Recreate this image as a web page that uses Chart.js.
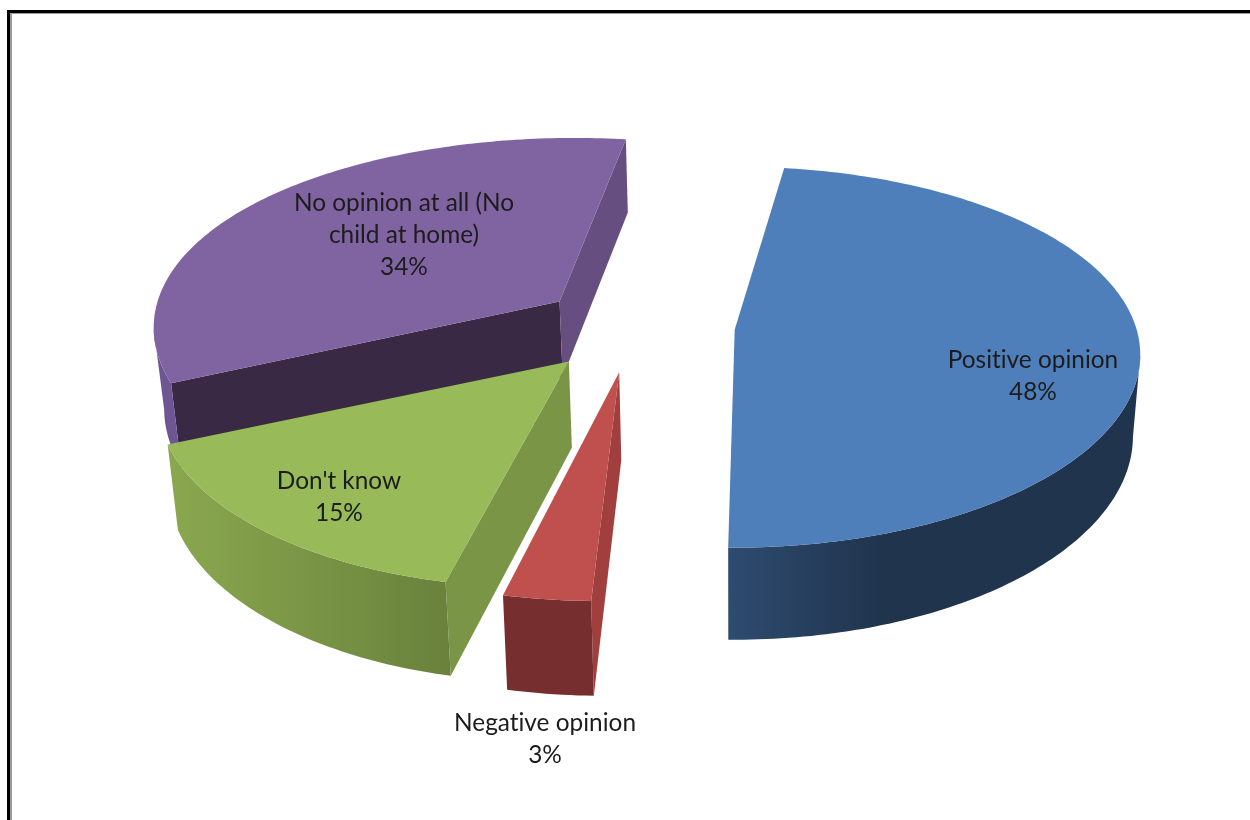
<!DOCTYPE html>
<html>
<head>
    <meta charset="utf-8">
    <style>
        body {
            margin: 0;
            background-color: white;
            overflow: hidden;
        }
        #wrap {
            position: relative;
            width: 1250px;
            height: 820px;
        }
        #frame {
            position: absolute;
            left: 7px;
            top: 10px;
            width: 1300px;
            height: 900px;
            border: 3px solid black;
            box-shadow: inset 2px 1px 0 #9a9a9a;
        }
        canvas {
            position: absolute;
            left: 0;
            top: 0;
        }
    </style>
    <script src="https://cdn.jsdelivr.net/npm/chart.js"></script>
</head>
<body>
    <div id="wrap">
        <div id="frame"></div>
        <canvas id="myChart" width="1250" height="820"></canvas>
    </div>
    <script>
        const categories = ['Positive opinion', 'Negative opinion', "Don't know", 'No opinion at all (No child at home)'];
        const values = [48, 3, 15, 34];
        const explode = [105, 100, 98, 88];

        // Slice colours: top face, cut faces, rim gradient ends
        const topColors = ['#4e7fba', '#bf504d', '#98ba58', '#8064a2'];
        const startFaceColors = ['#20344d', '#a03f3e', '#7a9545', '#392944'];
        const endFaceColors = ['#20344d', '#a03f3e', '#7a9545', '#664f80'];
        const rimFrom = ['#2e4b70', '#772e2e', '#8aa84f', '#6e5692'];
        const rimTo = ['#20344d', '#772e2e', '#6a823c', '#6e5692'];

        // Wrapped label lines and their centres on the page
        const labelLines = [['Positive opinion'], ['Negative opinion'], ["Don't know"], ['No opinion at all (No', 'child at home)']];
        const labelX = [1033, 545, 339, 404];
        const labelY = [360, 723, 481, 203];

        // Back slices get painted first
        const paintOrder = [3, 0, 2, 1];

        const TILT = 0.464;
        const PERSPECTIVE_X = 0.13;
        const PERSPECTIVE_Y = 0.14;
        const VANISH_X = 105;
        const DEPTH = 80;
        const BASE_SHRINK = 0.982;

        // Flat pie point (slice offset plus local rim vector) to page position.
        // Slices pushed back shrink more, pushed forward grow more; an apex (zero rim vector) stays put.
        function project(arc, p, lower) {
            const R = arc.outerRadius;
            const xPush = p.oy < 0 ? 2 * p.oy / R : 0.8 * p.oy / R;
            const sx = 1 / (1 - PERSPECTIVE_X * (p.ly / R) * (1 + xPush));
            const sy = 1 / (1 - PERSPECTIVE_Y * (p.ly / R) * (1 + 1.3 * Math.max(0, p.oy) / R));
            let x = (p.ox + p.lx - VANISH_X) * sx + VANISH_X;
            let y = (p.oy + p.ly * sy) * TILT;
            if (lower) {
                const isApex = p.lx === 0 && p.ly === 0;
                x = (x - VANISH_X) * BASE_SHRINK + VANISH_X;
                y = y + DEPTH * (isApex ? 1 + 0.4 * p.oy / R : sx);
            }
            return { x: arc.x + x, y: arc.y + y };
        }

        function fillPoly(ctx, pts, color) {
            ctx.beginPath();
            pts.forEach(function (p, i) {
                if (i === 0) ctx.moveTo(p.x, p.y);
                else ctx.lineTo(p.x, p.y);
            });
            ctx.closePath();
            ctx.fillStyle = color;
            ctx.fill();
        }

        function drawSlice(ctx, arc, i) {
            const mid = (arc.startAngle + arc.endAngle) / 2;
            const off = arc.options.offset;
            const ox = Math.cos(mid) * off;
            const oy = Math.sin(mid) * off;

            // outline of the slice in flat pie coordinates
            const rim = [];
            const steps = Math.max(4, Math.round((arc.endAngle - arc.startAngle) * 60));
            for (let n = 0; n <= steps; n++) {
                const a = arc.startAngle + (arc.endAngle - arc.startAngle) * n / steps;
                rim.push({ ox: ox, oy: oy, lx: Math.cos(a) * arc.outerRadius, ly: Math.sin(a) * arc.outerRadius });
            }
            const first = rim[0];
            const last = rim[rim.length - 1];
            const apex = { ox: ox, oy: oy, lx: 0, ly: 0 };
            const up = function (p) { return project(arc, p, false); };
            const down = function (p) { return project(arc, p, true); };

            // cut faces, only when they turn towards the viewer
            if (up(first).x < up(apex).x) {
                fillPoly(ctx, [up(apex), up(first), down(first), down(apex)], startFaceColors[i]);
            }
            if (up(apex).x < up(last).x) {
                fillPoly(ctx, [up(last), up(apex), down(apex), down(last)], endFaceColors[i]);
            }

            // curved rim, shaded from left to right
            const xs = rim.map(function (p) { return up(p).x; });
            const left = Math.min.apply(null, xs);
            const right = Math.max.apply(null, xs);
            const shade = ctx.createLinearGradient(left, 0, right, 0);
            shade.addColorStop(0, rimFrom[i]);
            shade.addColorStop(i === 0 ? 0.37 : 1, rimTo[i]);
            if (i === 0) shade.addColorStop(1, rimTo[i]);
            const front = rim.filter(function (p, n) {
                const next = rim[n + 1] || p;
                const prev = rim[n - 1] || p;
                return up(next).x < up(prev).x;
            });
            if (front.length > 1) {
                fillPoly(ctx, front.map(up).concat(front.map(down).reverse()), shade);
            }

            // top face
            fillPoly(ctx, [up(apex)].concat(rim.map(up)), topColors[i]);
        }

        const pie3d = {
            id: 'pie3d',
            beforeDatasetDraw: function (chart) {
                const arcs = chart.getDatasetMeta(0).data;
                paintOrder.forEach(function (i) {
                    drawSlice(chart.ctx, arcs[i], i);
                });
                return false;
            },
            afterDatasetsDraw: function (chart) {
                const ctx = chart.ctx;
                ctx.save();
                ctx.font = '24.4px Lato, sans-serif';
                ctx.textRendering = 'optimizeSpeed';
                ctx.fillStyle = '#1c1c1c';
                ctx.textAlign = 'center';
                ctx.textBaseline = 'middle';
                values.forEach(function (v, i) {
                    const lines = labelLines[i].concat([v + '%']);
                    lines.forEach(function (line, n) {
                        ctx.fillText(line, labelX[i], labelY[i] + n * 32);
                    });
                });
                ctx.restore();
            }
        };

        const myChart = new Chart(document.getElementById('myChart'), {
            type: 'pie',
            data: {
                labels: categories,
                datasets: [{
                    data: values,
                    backgroundColor: topColors,
                    offset: explode,
                    borderWidth: 0,
                    radius: 402
                }]
            },
            options: {
                responsive: false,
                animation: false,
                rotation: 8,
                layout: { padding: { left: 10, bottom: 168 } },
                plugins: {
                    legend: { display: false },
                    tooltip: { enabled: false }
                }
            },
            plugins: [pie3d]
        });
    </script>
</body>
</html>
